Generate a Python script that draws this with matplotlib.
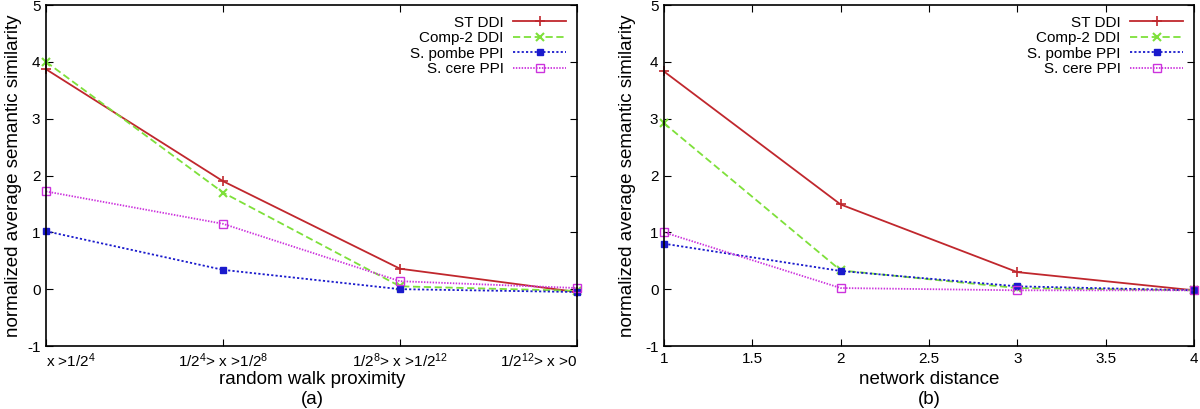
import matplotlib
matplotlib.use("Agg")
import matplotlib.pyplot as plt

plt.rcParams['font.family'] = ['Liberation Sans', 'DejaVu Sans']
plt.rcParams['mathtext.default'] = 'regular'
plt.rcParams['axes.unicode_minus'] = False

series_names = ["ST DDI", "Comp-2 DDI", "S. pombe PPI", "S. cere PPI"]

# Panel (a)
a_x = [1, 2, 3, 4]
a_ticklabels = ["x >1/2$^{4}$", "1/2$^{4}$> x >1/2$^{8}$", "1/2$^{8}$> x >1/2$^{12}$", "1/2$^{12}$> x >0"]
a_st = [3.87, 1.90, 0.36, -0.05]
a_comp2 = [4.00, 1.70, 0.05, -0.03]
a_pombe = [1.02, 0.34, 0.00, -0.05]
a_cere = [1.72, 1.15, 0.14, 0.02]

# Panel (b)
b_x = [1, 2, 3, 4]
b_st = [3.83, 1.49, 0.30, -0.02]
b_comp2 = [2.92, 0.33, 0.02, -0.02]
b_pombe = [0.80, 0.32, 0.05, -0.02]
b_cere = [1.00, 0.02, -0.02, -0.02]

colors = ["#c0272d", "#7ee03a", "#1a1acc", "#cc33dd"]
styles = [dict(ls='-', marker='+', ms=7, mew=1.2),
          dict(ls=(0, (4, 2)), marker='x', ms=6, mew=1.5),
          dict(ls=(0, (1.2, 1.2)), marker='s', ms=4.5, mew=1),
          dict(ls=(0, (0.8, 0.8)), marker='s', ms=6, mew=1, mfc='none')]

W, H = 1200, 409
fig = plt.figure(figsize=(12, 4.09), dpi=100)
axA = fig.add_axes([46/W, 1-346/H, (577-46)/W, (346-5)/H])
axB = fig.add_axes([664/W, 1-346/H, (1194-664)/W, (346-5)/H])

def draw(ax, x, data, ylab_right_px, left_px, width_px):
    for name, y, c, st in zip(series_names, data, colors, styles):
        ax.plot(x, y, color=c, lw=1.3, label=name, clip_on=False, **st)
    ax.set_ylim(-1, 5)
    ax.set_yticks(range(-1, 6))
    ax.set_xlim(1, 4)
    ax.tick_params(direction='in', top=True, right=True, length=5, labelsize=11, pad=4)
    for s in ax.spines.values():
        s.set_linewidth(1.2)
    ax.set_ylabel("normalized average semantic similarity", fontsize=13.5)
    ax.yaxis.set_label_coords((ylab_right_px - left_px) / width_px, 0.5)
    leg = ax.legend(loc='upper right', frameon=False, markerfirst=False, fontsize=11,
                    handlelength=3.5, labelspacing=0.1, borderaxespad=0.3, handletextpad=0.6)
    for t in leg.get_texts():
        t.set_ha('right')

draw(axA, a_x, [a_st, a_comp2, a_pombe, a_cere], 22, 46, 531)
axA.set_xticks(a_x)
axA.set_xticklabels(a_ticklabels)
labs = axA.get_xticklabels()
labs[0].set_ha('left')
labs[-1].set_ha('right')
fig.text(312/W, 1-380/H, "random walk proximity", fontsize=13.5, ha='center', va='center')
fig.text(312/W, 1-399/H, "(a)", fontsize=13.5, ha='center', va='center')

draw(axB, b_x, [b_st, b_comp2, b_pombe, b_cere], 636, 664, 530)
axB.set_xticks([1, 1.5, 2, 2.5, 3, 3.5, 4])
axB.set_xticklabels(["1", "1.5", "2", "2.5", "3", "3.5", "4"])
fig.text(929/W, 1-380/H, "network distance", fontsize=13.5, ha='center', va='center')
fig.text(929/W, 1-399/H, "(b)", fontsize=13.5, ha='center', va='center')

fig.savefig("out.png", dpi=100)
